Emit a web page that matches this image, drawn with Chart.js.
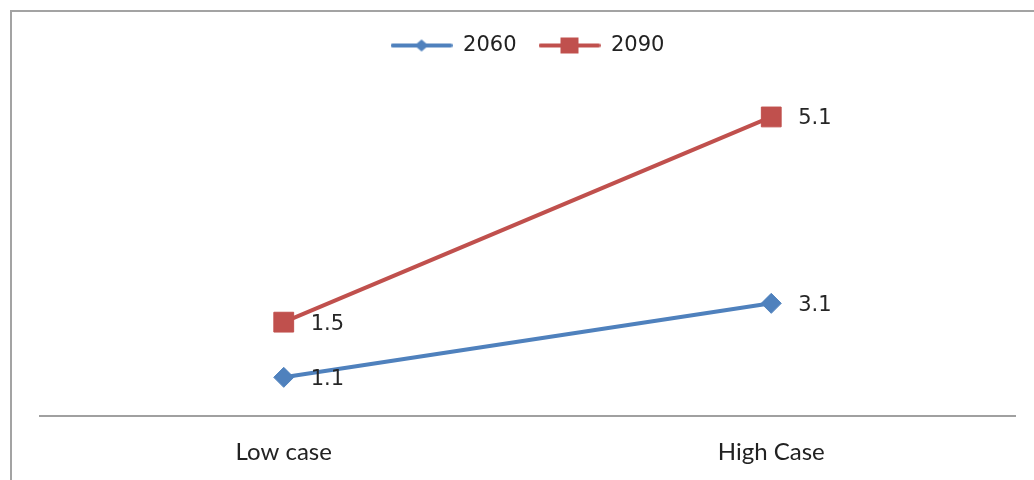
<!DOCTYPE html>
<html>
<head>
<meta charset="utf-8">
<script src="https://cdn.jsdelivr.net/npm/chart.js@4/dist/chart.umd.min.js"></script>
<style>
  html, body { margin: 0; padding: 0; background: #fff; }
  #wrap { position: relative; width: 1034px; height: 480px; }
</style>
</head>
<body>
<div id="wrap"><canvas id="c" width="1034" height="480"></canvas></div>
<script>
// Scenario categories and series values
const categories = ['Low case', 'High Case'];
const series2060 = [1.1, 3.1];
const series2090 = [1.5, 5.1];
const seriesNames = ['2060', '2090'];

const BLUE = '#4F81BD';
const RED = '#C0504D';

// Hidden value axes: lower bound and pixels per value unit for each
const Y1_MIN = 0.05, Y1_UNIT_PX = 37;
const Y2_MIN = -0.15, Y2_UNIT_PX = 57;

// Legend swatch: a short line with the series marker in the middle
function legendSwatch(color, marker) {
  const cv = document.createElement('canvas');
  cv.width = 62; cv.height = 20;
  const g = cv.getContext('2d');
  g.strokeStyle = color; g.fillStyle = color; g.lineWidth = 4; g.lineCap = 'round';
  g.beginPath(); g.moveTo(2, 10); g.lineTo(60, 10); g.stroke();
  g.beginPath();
  if (marker === 'diamond') {
    g.moveTo(31 - 7, 10); g.lineTo(31, 4); g.lineTo(31 + 7, 10); g.lineTo(31, 16);
    g.closePath();
  } else {
    g.rect(31 - 9, 10 - 8, 18, 16);
  }
  g.fill();
  return cv;
}
const swatches = [legendSwatch(BLUE, 'diamond'), legendSwatch(RED, 'square')];

// Outer frame of the chart box (left and top edges)
const framePlugin = {
  id: 'frame',
  beforeDraw(chart) {
    const ctx = chart.ctx;
    ctx.save();
    ctx.fillStyle = '#a3a3a3';
    ctx.fillRect(10, 10, 2, chart.height - 10);
    ctx.fillRect(10, 10, chart.width - 10, 2);
    ctx.restore();
  }
};

// Value labels to the right of every point
const valueLabels = {
  id: 'valueLabels',
  afterDatasetsDraw(chart) {
    const ctx = chart.ctx;
    ctx.save();
    ctx.font = '21px "DejaVu Sans"';
    ctx.fillStyle = '#262626';
    ctx.textAlign = 'left';
    ctx.textBaseline = 'middle';
    chart.data.datasets.forEach((ds, i) => {
      const meta = chart.getDatasetMeta(i);
      meta.data.forEach((pt, j) => {
        ctx.fillText(ds.data[j].toFixed(1), pt.x + 27, pt.y + 2);
      });
    });
    ctx.restore();
  }
};

const chart = new Chart(document.getElementById('c'), {
  type: 'line',
  data: {
    labels: categories,
    datasets: [
      {
        label: seriesNames[0],
        data: series2060,
        yAxisID: 'y',
        borderColor: BLUE,
        backgroundColor: BLUE,
        borderWidth: 4,
        pointStyle: 'rectRot',
        pointRadius: 10,
        pointBorderWidth: 1,
        pointBorderColor: BLUE,
        pointBackgroundColor: BLUE,
        tension: 0
      },
      {
        label: seriesNames[1],
        data: series2090,
        yAxisID: 'y2',
        borderColor: RED,
        backgroundColor: RED,
        borderWidth: 4,
        pointStyle: 'rect',
        pointRadius: 14,
        pointBorderWidth: 1,
        pointBorderColor: RED,
        pointBackgroundColor: RED,
        tension: 0
      }
    ]
  },
  options: {
    responsive: false,
    animation: false,
    layout: { padding: { left: 40, right: 19, top: 13, bottom: -9 } },
    plugins: {
      tooltip: { enabled: false },
      legend: {
        position: 'top',
        labels: {
          usePointStyle: true,
          pointStyleWidth: 62,
          padding: 22,
          color: '#222',
          font: { family: 'DejaVu Sans', size: 21 },
          generateLabels(ch) {
            return ch.data.datasets.map((ds, i) => ({
              text: ds.label,
              pointStyle: swatches[i],
              fillStyle: ds.borderColor,
              strokeStyle: ds.borderColor,
              lineWidth: 0,
              fontColor: '#222',
              datasetIndex: i,
              hidden: false
            }));
          }
        }
      }
    },
    scales: {
      x: {
        offset: true,
        grid: { display: false, drawTicks: false },
        border: { display: true, color: '#a0a0a0', width: 2 },
        ticks: {
          padding: 22,
          color: '#222',
          font: { family: 'Lato', size: 24 }
        }
      },
      y: { display: false, min: Y1_MIN, max: 10 },
      y2: { display: false, min: Y2_MIN, max: 6, position: 'right' }
    }
  },
  plugins: [framePlugin, valueLabels]
});

// Fit each hidden axis so that one value unit spans a fixed pixel height
const area = chart.chartArea;
const h = area.bottom - area.top;
chart.options.scales.y.max = Y1_MIN + h / Y1_UNIT_PX;
chart.options.scales.y2.max = Y2_MIN + h / Y2_UNIT_PX;
chart.update('none');
</script>
</body>
</html>
